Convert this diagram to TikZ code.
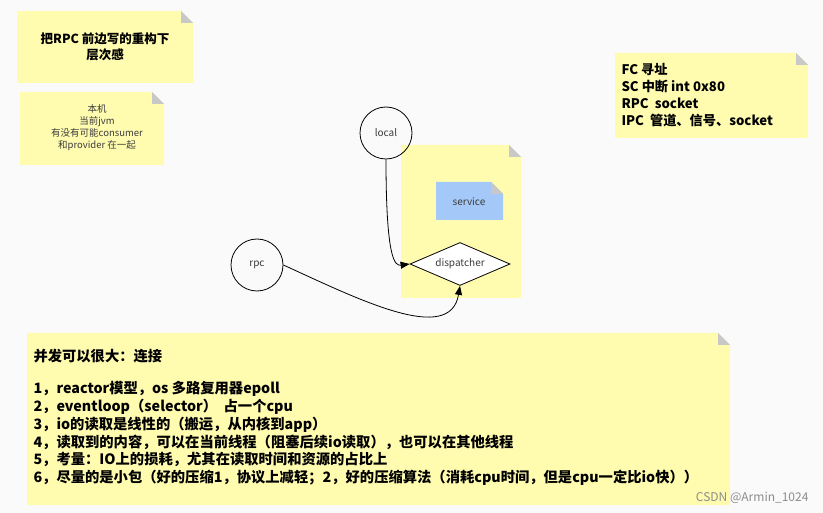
\documentclass[tikz,border=0pt]{standalone}
\usepackage{fontspec}
\setmainfont{Noto Sans CJK SC}
\usetikzlibrary{shapes.geometric,arrows.meta}
\definecolor{bg}{RGB}{250,250,250}
\definecolor{noteY}{RGB}{255,252,176}
\definecolor{noteB}{RGB}{164,200,248}
\definecolor{fold}{RGB}{200,200,200}
\definecolor{txt}{RGB}{60,60,60}
\tikzset{
  circ/.style={circle,draw,thick,minimum size=52pt,inner sep=0pt,font=\fontsize{10}{12}\selectfont,text=txt},
  conn/.style={thick,-{Triangle[length=9pt,width=7pt]}},
}
\newcommand{\mynote}[6]{% x1,y1,x2,y2,color,name
  \fill[#5] (#1,#2) -- (#3-12,#2) -- (#3,#2+12) -- (#3,#4) -- (#1,#4) -- cycle;
  \fill[fold] (#3-12,#2) -- (#3,#2+12) -- (#3-12,#2+12) -- cycle;
  \coordinate (#6) at ({(#1+#3)/2},{(#2+#4)/2});
}
\begin{document}
\begin{tikzpicture}[x=1pt,y=-1pt]
\fill[bg] (0,0) rectangle (823,513);
\useasboundingbox (0,0) rectangle (823,513);
\mynote{17}{11}{193}{83}{noteY}{n1}
\node[font=\fontsize{12.5}{16}\selectfont\bfseries,align=center] (t1) at (105,47) {把RPC 前边写的重构下\\层次感};
\mynote{20}{92}{164}{165}{noteY}{n2}
\node[font=\fontsize{9.5}{12}\selectfont,align=center,text=txt] (t2) at (97,128) {本机\\当前jvm\\有没有可能consumer\\和provider 在一起};
\mynote{615}{53}{808}{138}{noteY}{n3}
\node[font=\fontsize{13.2}{17}\selectfont\bfseries,align=left,anchor=north west] (t3) at (618,60) {FC 寻址\\SC 中断 int 0x80\\RPC\ \ socket\\IPC\ \ 管道、信号、socket};
\mynote{401}{145}{521}{298}{noteY}{n4}
\mynote{436}{182}{503}{220}{noteB}{n5}
\node[font=\fontsize{10}{12}\selectfont,text=txt] (svc) at (469,202) {service};
\node[circ] (local) at (386,133) {local};
\node[circ] (rpc) at (257,265) {rpc};
\node[diamond,draw,thick,fill=white,minimum width=100pt,minimum height=43pt,inner sep=0pt,aspect=2.3,font=\fontsize{10}{12}\selectfont,text=txt] (disp) at (460,264) {dispatcher};
\draw[conn] (local.south) .. controls (386,260) and (395,266) .. (disp.west);
\draw[conn] (rpc.east) .. controls (360,300) and (450,345) .. (disp.south);
\mynote{27}{333}{730}{505}{noteY}{n6}
\node[font=\fontsize{14.3}{17.8}\selectfont\bfseries,align=left,anchor=north west] (t6) at (30,346) {并发可以很大：连接\\[14pt]
1，reactor模型，os 多路复用器epoll\\
2，eventloop（selector）\ \ 占一个cpu\\
3，io的读取是线性的（搬运，从内核到app）\\
4，读取到的内容，可以在当前线程（阻塞后续io读取），也可以在其他线程\\
5，考量：IO上的损耗，尤其在读取时间和资源的占比上\\
6，尽量的是小包（好的压缩1，协议上减轻；2，好的压缩算法（消耗cpu时间，但是cpu一定比io快））};
\node[font=\fontsize{12}{14}\selectfont,text=white!55!black,anchor=south east] (wm) at (812,507) {CSDN @Armin\_1024};
\end{tikzpicture}
\end{document}
